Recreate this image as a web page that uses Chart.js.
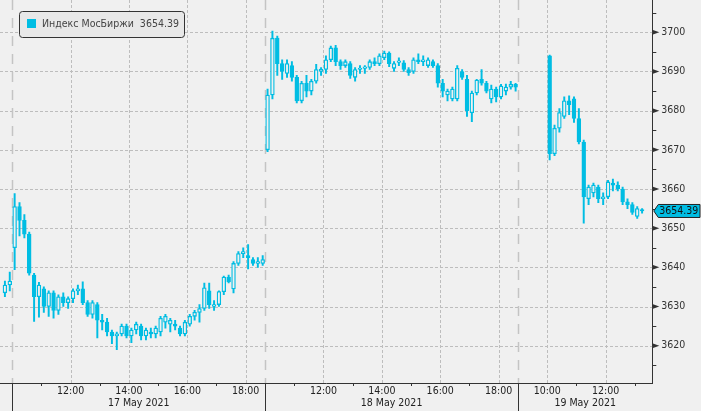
<!DOCTYPE html>
<html lang="ru">
<head>
<meta charset="UTF-8">
<title>Индекс МосБиржи</title>
<script src="https://cdn.jsdelivr.net/npm/chart.js"></script>
<style>
  html, body { margin: 0; padding: 0; background: #f0f0f0; }
  #grafico { display: block; }
</style>
</head>
<body>
<canvas id="grafico" width="701" height="411"></canvas>
<script>
// 10-minute candles [open, high, low, close]; slot 0 = 17 May 10:00
const may14 = [
  [3633.5, 3636.5, 3632.5, 3635.5], [3635.5, 3638.8, 3634, 3636.5]
];
const may17 = [
  [3645, 3658.8, 3639.4, 3655.5], [3655.5, 3656.5, 3648, 3652], [3652, 3653.5, 3647.5, 3648.5],
  [3648.5, 3649, 3638, 3638.5], [3638, 3638.5, 3626.2, 3632.5], [3632.5, 3636.2, 3627.3, 3635.5],
  [3634.5, 3635, 3628.5, 3630], [3630, 3634, 3627.5, 3633.5], [3633.5, 3634, 3627, 3629],
  [3629, 3633, 3628, 3632.5], [3632.5, 3633.5, 3630, 3631], [3631, 3632.5, 3629.5, 3632],
  [3632, 3634.5, 3631, 3634], [3634, 3635.5, 3633, 3634.5], [3634.5, 3636.3, 3630.5, 3631],
  [3631, 3631.5, 3627.5, 3628], [3628, 3631.5, 3627, 3631], [3630.5, 3631, 3622, 3626.5],
  [3626.5, 3628, 3624, 3626], [3626, 3627, 3622.5, 3623.5], [3623.5, 3624, 3620.5, 3622.5],
  [3622.5, 3623.5, 3619, 3623], [3623, 3625.5, 3622.5, 3625], [3625, 3625.5, 3622, 3622.5],
  [3622.5, 3624.5, 3620.8, 3624], [3624, 3626, 3623, 3625.5], [3625, 3625.5, 3621.5, 3622.5],
  [3622.5, 3624.5, 3621.5, 3624], [3623.5, 3624.5, 3622, 3623], [3623, 3625, 3622, 3624.5],
  [3623.5, 3627.5, 3622.5, 3627], [3626, 3628, 3624.5, 3627.5], [3625.5, 3627, 3623.5, 3626.5],
  [3625.5, 3626.5, 3624, 3625], [3624.5, 3625, 3622.5, 3623], [3623, 3626.5, 3622.5, 3626],
  [3625.5, 3628, 3625, 3627.5], [3627.5, 3629, 3626.5, 3628.5], [3628.5, 3630.5, 3626, 3629.5],
  [3629.5, 3636, 3629, 3634.8], [3634, 3636, 3629.5, 3630.5], [3630, 3631.5, 3629, 3630.5],
  [3630.5, 3634, 3630, 3633.8], [3633.8, 3637.8, 3633, 3637.5], [3637.5, 3638, 3636, 3636.3],
  [3634.5, 3641.5, 3633.5, 3641], [3641, 3644, 3640.5, 3643.5], [3643.5, 3645, 3642.5, 3644],
  [3643, 3645.8, 3639.6, 3642.5], [3642, 3642.5, 3640.5, 3641], [3641, 3642.5, 3640, 3641.5],
  [3641, 3643, 3640.5, 3642]
];
const may18 = [
  [3670, 3685.5, 3669.5, 3684], [3684, 3700.3, 3683, 3698.5], [3698.5, 3699, 3689, 3692],
  [3692, 3693, 3688, 3690], [3689.5, 3693, 3688.5, 3692], [3691.5, 3692.5, 3687.5, 3688.5],
  [3688.5, 3689, 3682, 3682.5], [3682.5, 3687.5, 3682, 3687], [3687, 3689, 3683.5, 3685],
  [3685, 3688, 3684, 3687.5], [3687.5, 3691.8, 3687, 3690.5], [3690, 3691, 3689, 3690.6],
  [3690.5, 3694, 3689.5, 3693], [3693, 3696.5, 3692.5, 3696], [3696, 3696.7, 3691.5, 3692.5],
  [3692.5, 3693, 3690.5, 3691.5], [3691.5, 3693, 3691, 3692.5], [3692, 3692.5, 3688.2, 3689],
  [3688.5, 3691, 3687.5, 3690.5], [3690.5, 3691.5, 3689.5, 3690.8], [3690.8, 3691.5, 3689.5, 3691],
  [3691, 3693, 3690.5, 3692.5], [3692.5, 3693.5, 3691.5, 3692], [3692, 3694.5, 3691.5, 3694],
  [3693.5, 3695.2, 3693, 3694.7], [3694.7, 3695, 3691.2, 3692], [3690.8, 3692.5, 3690, 3692],
  [3692.3, 3693.5, 3691.5, 3692.4], [3692.2, 3692.8, 3690, 3690.5], [3690.5, 3691, 3689, 3689.7],
  [3690, 3693.5, 3689.5, 3693], [3693, 3694.5, 3692, 3692.5], [3692.5, 3694, 3691.5, 3693],
  [3691.5, 3693.5, 3691, 3693], [3692.5, 3693, 3691, 3691.5], [3691.5, 3692, 3686, 3687],
  [3687, 3688, 3683.5, 3685], [3684, 3685.5, 3682.5, 3685], [3683, 3686, 3682.5, 3685.5],
  [3683, 3691.5, 3682.5, 3690.8], [3690, 3690.5, 3688, 3688.5], [3688, 3689, 3678.5, 3680],
  [3679.5, 3685, 3677.2, 3684.5], [3684.5, 3688, 3684, 3687.8], [3688, 3690.5, 3686.5, 3687],
  [3687, 3687.5, 3684.5, 3685], [3683, 3686.5, 3682, 3685.5], [3685.5, 3686, 3682.2, 3683.5],
  [3683.5, 3686.7, 3683, 3686.3], [3685, 3686.8, 3684, 3686], [3686, 3687.5, 3685.5, 3686.7],
  [3686.7, 3687, 3685, 3686]
];
const may19 = [
  [3694, 3694.2, 3667.4, 3669], [3669, 3676.3, 3668.5, 3675.5], [3675.5, 3680.5, 3674.5, 3679.5],
  [3678.5, 3683.5, 3678, 3682.5], [3682.5, 3683.8, 3679, 3681.5], [3683, 3683.5, 3677, 3678],
  [3678, 3680.5, 3671.5, 3672], [3672, 3672.5, 3651.3, 3658], [3657.5, 3661, 3656, 3660.5],
  [3659, 3661.5, 3658, 3661], [3660.5, 3661, 3656.5, 3657.5], [3657.5, 3659, 3656, 3658],
  [3658, 3662.2, 3657.5, 3661.8], [3661.5, 3662.5, 3659.5, 3661], [3661, 3661.8, 3659.5, 3660],
  [3660, 3660.5, 3656, 3656.7], [3656.7, 3657.5, 3655, 3656], [3656, 3656.5, 3653.5, 3654],
  [3653, 3655.5, 3652.5, 3655], [3654.5, 3655, 3653.8, 3654.39]
];
const sessions = [may14, may17, may18, may19];
const sessionFirstSlot = [-2, 0, 52, 110];

const timeTickSlots = [12, 24, 36, 48, 64, 76, 88, 100, 110, 122];
const timeTickLabels = ['12:00', '14:00', '16:00', '18:00', '12:00', '14:00', '16:00', '18:00', '10:00', '12:00'];
const oddHourSlots = [6, 18, 30, 42, 58, 70, 82, 94, 116, 128];
const dayStartSlots = [0, 52, 104];
const dayEndSlots = [52, 104, 131.6];
const dayLabels = ['17 May 2021', '18 May 2021', '19 May 2021'];
const priceTicks = [3620, 3630, 3640, 3650, 3660, 3670, 3680, 3690, 3700];
const priceMinorTicks = [3615, 3625, 3635, 3645, 3655, 3665, 3675, 3685, 3695, 3705];
const seriesName = 'Индекс МосБиржи';
const lastValue = 3654.39;

const cyan = '#00bde3';
const bg = '#f0f0f0';
const fontFamily = "'DejaVu Sans Condensed', 'DejaVu Sans', sans-serif";

var candles = [];
sessions.forEach(function (day, d) {
    day.forEach(function (c, i) {
        candles.push({ x: sessionFirstSlot[d] + i + 0.5, o: c[0], h: c[1], l: c[2], c: c[3] });
    });
});

function line(ctx, x1, y1, x2, y2) {
    ctx.beginPath();
    ctx.moveTo(x1, y1);
    ctx.lineTo(x2, y2);
    ctx.stroke();
}

const decor = {
    id: 'decor',
    beforeDraw(chart) {
        const ctx = chart.ctx;
        ctx.save();
        ctx.fillStyle = bg;
        ctx.fillRect(0, 0, chart.width, chart.height);
        ctx.restore();
    },
    beforeDatasetsDraw(chart) {
        const { ctx, chartArea: a, scales: { x, y } } = chart;
        ctx.save();
        ctx.lineWidth = 1;
        ctx.strokeStyle = '#bdbdbd';
        ctx.setLineDash([3, 2]);
        priceTicks.forEach(function (v) {
            const py = Math.round(y.getPixelForValue(v)) + 0.5;
            line(ctx, a.left, py, a.right, py);
        });
        timeTickSlots.forEach(function (s) {
            const px = Math.round(x.getPixelForValue(s)) + 0.5;
            line(ctx, px, a.top, px, a.bottom);
        });
        ctx.setLineDash([10, 8]);
        ctx.lineWidth = 1.5;
        ctx.strokeStyle = '#c4c4c4';
        dayStartSlots.forEach(function (s) {
            const px = Math.round(x.getPixelForValue(s)) + 0.5;
            line(ctx, px, a.top, px, a.bottom);
        });
        ctx.restore();
    },
    afterDraw(chart) {
        const { ctx, chartArea: a, scales: { x, y } } = chart;
        ctx.save();
        ctx.strokeStyle = '#333';
        ctx.fillStyle = '#333';
        ctx.lineWidth = 1;
        // price axis marks
        priceMinorTicks.forEach(function (v) {
            const py = Math.round(y.getPixelForValue(v)) + 0.5;
            line(ctx, a.right, py, a.right + 4, py);
        });
        priceTicks.forEach(function (v) {
            const py = y.getPixelForValue(v);
            ctx.beginPath();
            ctx.moveTo(a.right, py - 2.5);
            ctx.lineTo(a.right + 7, py);
            ctx.lineTo(a.right, py + 2.5);
            ctx.closePath();
            ctx.fill();
        });
        // time axis marks
        oddHourSlots.forEach(function (s) {
            const px = Math.round(x.getPixelForValue(s)) + 0.5;
            line(ctx, px, a.bottom, px, a.bottom + 3);
        });
        dayStartSlots.forEach(function (s) {
            const px = Math.round(x.getPixelForValue(s)) + 0.5;
            line(ctx, px, a.bottom, px, chart.height);
        });
        ctx.font = '10.5px ' + fontFamily;
        ctx.fillStyle = '#222';
        ctx.textAlign = 'center';
        ctx.textBaseline = 'middle';
        dayLabels.forEach(function (t, i) {
            const mid = (x.getPixelForValue(dayStartSlots[i]) + x.getPixelForValue(dayEndSlots[i])) / 2;
            ctx.fillText(t, mid, a.bottom + 20.5);
        });

        // last value tag
        const ly = y.getPixelForValue(lastValue);
        ctx.beginPath();
        ctx.moveTo(a.right + 1.5, ly);
        ctx.lineTo(a.right + 6, ly - 6.5);
        ctx.lineTo(chart.width - 1, ly - 6.5);
        ctx.lineTo(chart.width - 1, ly + 6.5);
        ctx.lineTo(a.right + 6, ly + 6.5);
        ctx.closePath();
        ctx.fillStyle = cyan;
        ctx.fill();
        ctx.strokeStyle = '#222';
        ctx.stroke();
        ctx.fillStyle = '#111';
        ctx.textAlign = 'left';
        ctx.fillText(lastValue.toFixed(2), a.right + 7, ly + 0.5);

        // legend box
        ctx.beginPath();
        ctx.roundRect(19.5, 11.5, 165, 26, 3);
        ctx.fillStyle = '#e8e8e8';
        ctx.fill();
        ctx.strokeStyle = '#333';
        ctx.stroke();
        ctx.fillStyle = cyan;
        ctx.fillRect(27, 19, 9, 9);
        ctx.fillStyle = '#444';
        ctx.font = '10.5px ' + fontFamily;
        ctx.fillText(seriesName + '  ' + lastValue.toFixed(2), 42, 24.5);
        ctx.restore();
    }
};

const wicks = candles.map(function (c) { return { x: c.x, y: [c.l, c.h] }; });
const bodies = candles.map(function (c) { return { x: c.x, y: [c.o, c.c] }; });

const config = {
    type: 'bar',
    data: {
        datasets: [{
            label: 'wick',
            data: wicks,
            backgroundColor: cyan,
            borderWidth: 0,
            barThickness: 1.3,
            grouped: false,
            order: 2
        }, {
            label: seriesName,
            data: bodies,
            backgroundColor: function (ctx) {
                const c = candles[ctx.dataIndex];
                return c && c.c < c.o ? cyan : bg;
            },
            borderColor: cyan,
            borderWidth: 1.3,
            borderSkipped: false,
            barThickness: 3.8,
            minBarLength: 1.5,
            grouped: false,
            order: 1
        }]
    },
    options: {
        responsive: false,
        animation: false,
        devicePixelRatio: 1,
        layout: { padding: 0 },
        plugins: { legend: { display: false }, tooltip: { enabled: false } },
        scales: {
            x: {
                type: 'linear',
                min: -2.51,
                max: 131.6,
                offset: false,
                grid: { display: false, drawTicks: false },
                border: { display: true, color: '#333', width: 1 },
                afterBuildTicks: function (s) { s.ticks = timeTickSlots.map(function (v) { return { value: v }; }); },
                afterFit: function (s) { s.height = 28; s.paddingLeft = 0; s.paddingRight = 0; },
                ticks: {
                    autoSkip: false,
                    maxRotation: 0,
                    padding: 2,
                    color: '#222',
                    font: { family: fontFamily, size: 10.5 },
                    callback: function (v, i) { return timeTickLabels[i]; }
                }
            },
            y: {
                position: 'right',
                min: 3610.48,
                max: 3708.24,
                grid: { display: false, drawTicks: false },
                border: { display: true, color: '#333', width: 1 },
                afterBuildTicks: function (s) { s.ticks = priceTicks.map(function (v) { return { value: v }; }); },
                afterFit: function (s) { s.width = 48.7; s.paddingTop = 0; s.paddingBottom = 0; },
                ticks: {
                    padding: 9,
                    color: '#333',
                    font: { family: fontFamily, size: 10.5 },
                    callback: function (v) { return v; }
                }
            }
        }
    },
    plugins: [decor]
};

const myChart = new Chart(document.getElementById('grafico'), config);
</script>
</body>
</html>
